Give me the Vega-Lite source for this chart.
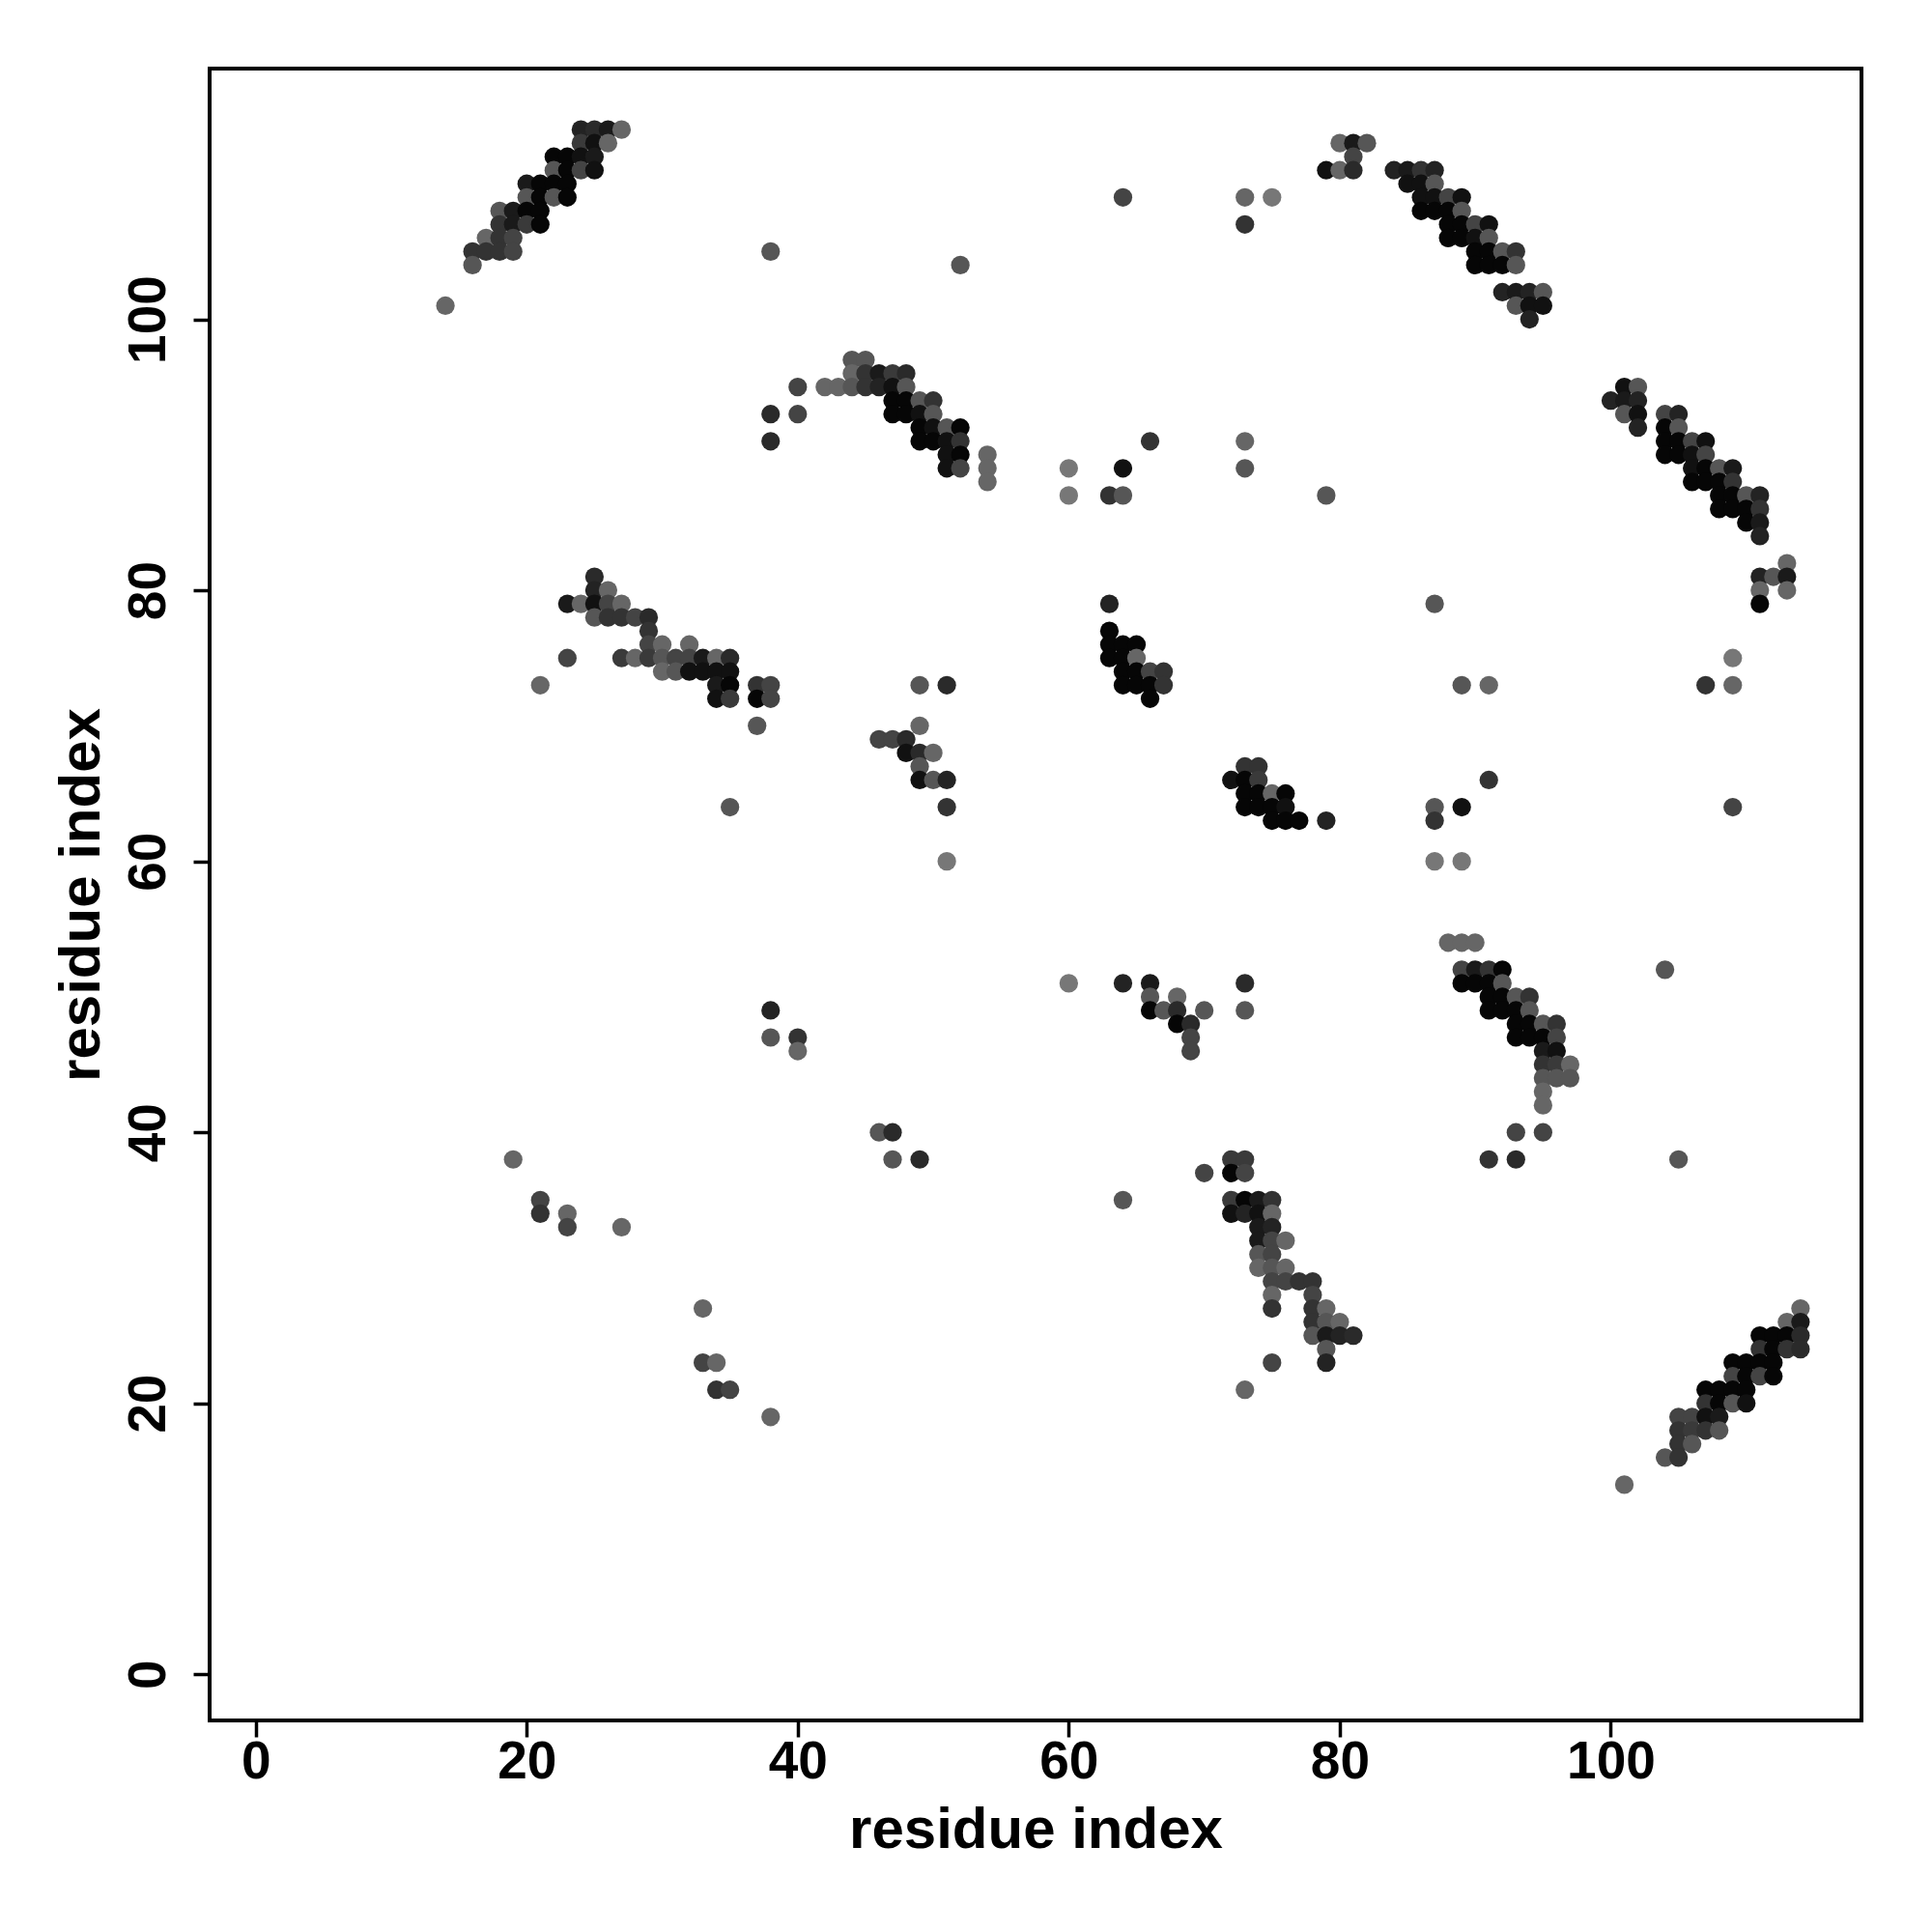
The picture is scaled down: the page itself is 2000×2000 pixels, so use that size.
{
"$schema": "https://vega.github.io/schema/vega-lite/v6.json",
"width": 1710, "height": 1710,
"autosize": {"type": "none"},
"padding": {"left": 217, "top": 71, "right": 73, "bottom": 219},
"background": "white",
"config": {
 "view": {"stroke": "black", "strokeWidth": 4},
 "axis": {"domain": false, "grid": false, "ticks": true, "tickColor": "black", "tickWidth": 3.5, "tickSize": 17,
  "labelFont": "Liberation Sans", "labelFontSize": 55, "labelFontWeight": "bold", "labelColor": "black",
  "labelFlush": false, "labelOverlap": false,
  "titleFont": "Liberation Sans", "titleFontSize": 60, "titleFontWeight": "bold", "titleColor": "black"}
},
"data": {"values": [
{"i":24,"j":114,"p":0.71},{"i":25,"j":114,"p":0.65},{"i":26,"j":114,"p":0.78},{"i":27,"j":114,"p":0.14},
{"i":24,"j":113,"p":0.51},{"i":25,"j":113,"p":0.86},{"i":26,"j":113,"p":0.14},
{"i":22,"j":112,"p":0.95},{"i":23,"j":112,"p":0.95},{"i":24,"j":112,"p":0.86},{"i":25,"j":112,"p":0.78},
{"i":22,"j":111,"p":0.28},{"i":23,"j":111,"p":0.95},{"i":24,"j":111,"p":0.43},{"i":25,"j":111,"p":0.86},
{"i":20,"j":110,"p":0.78},{"i":21,"j":110,"p":0.95},{"i":22,"j":110,"p":0.95},{"i":23,"j":110,"p":0.95},
{"i":20,"j":109,"p":0.28},{"i":21,"j":109,"p":0.95},{"i":22,"j":109,"p":0.28},{"i":23,"j":109,"p":0.95},
{"i":18,"j":108,"p":0.28},{"i":19,"j":108,"p":0.78},{"i":20,"j":108,"p":0.95},{"i":21,"j":108,"p":0.95},
{"i":18,"j":107,"p":0.57},{"i":19,"j":107,"p":0.78},{"i":20,"j":107,"p":0.51},{"i":21,"j":107,"p":0.95},
{"i":17,"j":106,"p":0.14},{"i":18,"j":106,"p":0.57},{"i":19,"j":106,"p":0.43},
{"i":16,"j":105,"p":0.57},{"i":17,"j":105,"p":0.57},{"i":18,"j":105,"p":0.57},{"i":19,"j":105,"p":0.43},
{"i":16,"j":104,"p":0.28},{"i":14,"j":101,"p":0.14},
{"i":38,"j":105,"p":0.28},{"i":52,"j":104,"p":0.28},{"i":64,"j":109,"p":0.43},{"i":73,"j":109,"p":0.14},{"i":75,"j":109,"p":0.0},{"i":73,"j":107,"p":0.57},
{"i":80,"j":113,"p":0.14},{"i":81,"j":113,"p":0.78},{"i":82,"j":113,"p":0.28},{"i":81,"j":112,"p":0.43},
{"i":79,"j":111,"p":0.86},{"i":80,"j":111,"p":0.14},{"i":81,"j":111,"p":0.65},{"i":84,"j":111,"p":0.71},{"i":85,"j":111,"p":0.78},{"i":86,"j":111,"p":0.57},{"i":87,"j":111,"p":0.71},
{"i":85,"j":110,"p":0.86},{"i":86,"j":110,"p":0.86},{"i":87,"j":110,"p":0.28},
{"i":86,"j":109,"p":0.86},{"i":87,"j":109,"p":0.86},{"i":88,"j":109,"p":0.43},{"i":89,"j":109,"p":0.86},
{"i":86,"j":108,"p":0.95},{"i":87,"j":108,"p":0.95},{"i":88,"j":108,"p":0.95},{"i":89,"j":108,"p":0.28},
{"i":88,"j":107,"p":0.95},{"i":89,"j":107,"p":0.95},{"i":90,"j":107,"p":0.43},{"i":91,"j":107,"p":0.86},
{"i":88,"j":106,"p":0.95},{"i":89,"j":106,"p":0.95},{"i":90,"j":106,"p":0.86},{"i":91,"j":106,"p":0.28},
{"i":90,"j":105,"p":0.95},{"i":91,"j":105,"p":0.95},{"i":92,"j":105,"p":0.28},{"i":93,"j":105,"p":0.57},
{"i":90,"j":104,"p":0.95},{"i":91,"j":104,"p":0.95},{"i":92,"j":104,"p":0.95},{"i":93,"j":104,"p":0.28},
{"i":92,"j":102,"p":0.71},{"i":93,"j":102,"p":0.78},{"i":94,"j":102,"p":0.71},{"i":95,"j":102,"p":0.28},
{"i":93,"j":101,"p":0.28},{"i":94,"j":101,"p":0.86},{"i":95,"j":101,"p":0.86},{"i":94,"j":100,"p":0.71},
{"i":44,"j":97,"p":0.28},{"i":45,"j":97,"p":0.28},
{"i":44,"j":96,"p":0.14},{"i":45,"j":96,"p":0.57},{"i":46,"j":96,"p":0.78},{"i":47,"j":96,"p":0.51},{"i":48,"j":96,"p":0.65},
{"i":40,"j":95,"p":0.43},{"i":42,"j":95,"p":0.14},{"i":43,"j":95,"p":0.14},{"i":44,"j":95,"p":0.28},{"i":45,"j":95,"p":0.57},{"i":46,"j":95,"p":0.71},{"i":47,"j":95,"p":0.86},{"i":48,"j":95,"p":0.28},
{"i":47,"j":94,"p":0.95},{"i":48,"j":94,"p":0.95},{"i":49,"j":94,"p":0.28},{"i":50,"j":94,"p":0.57},
{"i":38,"j":93,"p":0.65},{"i":40,"j":93,"p":0.43},{"i":47,"j":93,"p":0.95},{"i":48,"j":93,"p":0.95},{"i":49,"j":93,"p":0.86},{"i":50,"j":93,"p":0.28},
{"i":49,"j":92,"p":0.95},{"i":50,"j":92,"p":0.86},{"i":51,"j":92,"p":0.28},{"i":52,"j":92,"p":0.95},
{"i":38,"j":91,"p":0.65},{"i":49,"j":91,"p":0.95},{"i":50,"j":91,"p":0.95},{"i":51,"j":91,"p":0.86},{"i":52,"j":91,"p":0.57},
{"i":51,"j":90,"p":0.86},{"i":52,"j":90,"p":0.95},{"i":54,"j":90,"p":0.14},
{"i":51,"j":89,"p":0.86},{"i":52,"j":89,"p":0.43},{"i":54,"j":89,"p":0.14},{"i":54,"j":88,"p":0.14},
{"i":60,"j":89,"p":0.0},{"i":64,"j":89,"p":0.86},{"i":73,"j":89,"p":0.28},{"i":66,"j":91,"p":0.57},{"i":73,"j":91,"p":0.14},
{"i":60,"j":87,"p":0.0},{"i":63,"j":87,"p":0.57},{"i":64,"j":87,"p":0.28},{"i":79,"j":87,"p":0.28},
{"i":101,"j":95,"p":0.86},{"i":102,"j":95,"p":0.28},
{"i":100,"j":94,"p":0.71},{"i":101,"j":94,"p":0.78},{"i":102,"j":94,"p":0.71},
{"i":101,"j":93,"p":0.28},{"i":102,"j":93,"p":0.86},{"i":104,"j":93,"p":0.43},{"i":105,"j":93,"p":0.71},
{"i":102,"j":92,"p":0.71},{"i":104,"j":92,"p":0.95},{"i":105,"j":92,"p":0.28},
{"i":104,"j":91,"p":0.95},{"i":105,"j":91,"p":0.95},{"i":106,"j":91,"p":0.43},{"i":107,"j":91,"p":0.86},
{"i":104,"j":90,"p":0.95},{"i":105,"j":90,"p":0.95},{"i":106,"j":90,"p":0.86},{"i":107,"j":90,"p":0.43},
{"i":106,"j":89,"p":0.86},{"i":107,"j":89,"p":0.95},{"i":108,"j":89,"p":0.28},{"i":109,"j":89,"p":0.78},
{"i":106,"j":88,"p":0.95},{"i":107,"j":88,"p":0.95},{"i":108,"j":88,"p":0.95},{"i":109,"j":88,"p":0.57},
{"i":108,"j":87,"p":0.95},{"i":109,"j":87,"p":0.95},{"i":110,"j":87,"p":0.28},{"i":111,"j":87,"p":0.71},
{"i":108,"j":86,"p":0.95},{"i":109,"j":86,"p":0.95},{"i":110,"j":86,"p":0.95},{"i":111,"j":86,"p":0.57},
{"i":110,"j":85,"p":0.95},{"i":111,"j":85,"p":0.78},{"i":111,"j":84,"p":0.71},
{"i":113,"j":82,"p":0.14},{"i":111,"j":81,"p":0.71},{"i":112,"j":81,"p":0.28},{"i":113,"j":81,"p":0.78},
{"i":111,"j":80,"p":0.14},{"i":113,"j":80,"p":0.14},{"i":111,"j":79,"p":0.95},
{"i":25,"j":81,"p":0.65},{"i":25,"j":80,"p":0.71},{"i":26,"j":80,"p":0.14},
{"i":23,"j":79,"p":0.78},{"i":24,"j":79,"p":0.14},{"i":25,"j":79,"p":0.86},{"i":26,"j":79,"p":0.43},{"i":27,"j":79,"p":0.14},
{"i":25,"j":78,"p":0.28},{"i":26,"j":78,"p":0.57},{"i":27,"j":78,"p":0.57},{"i":28,"j":78,"p":0.43},{"i":29,"j":78,"p":0.65},
{"i":29,"j":77,"p":0.57},{"i":29,"j":76,"p":0.43},{"i":30,"j":76,"p":0.14},{"i":32,"j":76,"p":0.14},
{"i":23,"j":75,"p":0.43},{"i":27,"j":75,"p":0.51},{"i":28,"j":75,"p":0.14},{"i":29,"j":75,"p":0.51},{"i":30,"j":75,"p":0.28},{"i":31,"j":75,"p":0.43},{"i":32,"j":75,"p":0.43},{"i":33,"j":75,"p":0.78},{"i":34,"j":75,"p":0.14},{"i":35,"j":75,"p":0.65},
{"i":30,"j":74,"p":0.14},{"i":31,"j":74,"p":0.28},{"i":32,"j":74,"p":0.86},{"i":33,"j":74,"p":0.86},{"i":34,"j":74,"p":0.86},{"i":35,"j":74,"p":0.86},
{"i":21,"j":73,"p":0.14},{"i":34,"j":73,"p":0.78},{"i":35,"j":73,"p":0.95},{"i":37,"j":73,"p":0.57},{"i":38,"j":73,"p":0.43},
{"i":34,"j":72,"p":0.86},{"i":35,"j":72,"p":0.51},{"i":37,"j":72,"p":0.95},{"i":38,"j":72,"p":0.43},
{"i":37,"j":70,"p":0.28},{"i":35,"j":64,"p":0.28},
{"i":63,"j":79,"p":0.71},{"i":63,"j":77,"p":0.95},{"i":63,"j":76,"p":0.95},{"i":64,"j":76,"p":0.95},{"i":65,"j":76,"p":0.95},
{"i":63,"j":75,"p":0.95},{"i":64,"j":75,"p":0.95},{"i":65,"j":75,"p":0.14},
{"i":64,"j":74,"p":0.95},{"i":65,"j":74,"p":0.95},{"i":66,"j":74,"p":0.43},{"i":67,"j":74,"p":0.57},
{"i":64,"j":73,"p":0.95},{"i":65,"j":73,"p":0.95},{"i":66,"j":73,"p":0.95},{"i":67,"j":73,"p":0.57},{"i":66,"j":72,"p":0.95},
{"i":49,"j":73,"p":0.28},{"i":51,"j":73,"p":0.65},{"i":49,"j":70,"p":0.14},
{"i":46,"j":69,"p":0.43},{"i":47,"j":69,"p":0.43},{"i":48,"j":69,"p":0.65},
{"i":48,"j":68,"p":0.86},{"i":49,"j":68,"p":0.65},{"i":50,"j":68,"p":0.14},{"i":49,"j":67,"p":0.28},
{"i":49,"j":66,"p":0.86},{"i":50,"j":66,"p":0.28},{"i":51,"j":66,"p":0.71},{"i":51,"j":64,"p":0.57},{"i":51,"j":60,"p":0.0},
{"i":73,"j":67,"p":0.57},{"i":74,"j":67,"p":0.57},
{"i":72,"j":66,"p":0.86},{"i":73,"j":66,"p":0.95},{"i":74,"j":66,"p":0.51},
{"i":73,"j":65,"p":0.95},{"i":74,"j":65,"p":0.95},{"i":75,"j":65,"p":0.14},{"i":76,"j":65,"p":0.95},
{"i":73,"j":64,"p":0.95},{"i":74,"j":64,"p":0.95},{"i":75,"j":64,"p":0.95},{"i":76,"j":64,"p":0.86},
{"i":75,"j":63,"p":0.95},{"i":76,"j":63,"p":0.95},{"i":77,"j":63,"p":0.95},{"i":79,"j":63,"p":0.71},
{"i":87,"j":79,"p":0.28},{"i":89,"j":73,"p":0.28},{"i":91,"j":73,"p":0.14},{"i":107,"j":73,"p":0.57},{"i":109,"j":73,"p":0.14},{"i":109,"j":75,"p":0.0},
{"i":91,"j":66,"p":0.57},{"i":87,"j":64,"p":0.28},{"i":87,"j":63,"p":0.57},{"i":89,"j":64,"p":0.86},{"i":109,"j":64,"p":0.43},{"i":87,"j":60,"p":0.0},{"i":89,"j":60,"p":0.0},
{"i":88,"j":54,"p":0.14},{"i":89,"j":54,"p":0.14},{"i":90,"j":54,"p":0.14},
{"i":89,"j":52,"p":0.43},{"i":90,"j":52,"p":0.78},{"i":91,"j":52,"p":0.57},{"i":92,"j":52,"p":0.95},{"i":104,"j":52,"p":0.28},
{"i":89,"j":51,"p":0.95},{"i":90,"j":51,"p":0.95},{"i":91,"j":51,"p":0.95},{"i":92,"j":51,"p":0.28},
{"i":91,"j":50,"p":0.95},{"i":92,"j":50,"p":0.95},{"i":93,"j":50,"p":0.28},{"i":94,"j":50,"p":0.57},
{"i":91,"j":49,"p":0.95},{"i":92,"j":49,"p":0.95},{"i":93,"j":49,"p":0.95},{"i":94,"j":49,"p":0.28},
{"i":93,"j":48,"p":0.95},{"i":94,"j":48,"p":0.95},{"i":95,"j":48,"p":0.28},{"i":96,"j":48,"p":0.57},
{"i":93,"j":47,"p":0.95},{"i":94,"j":47,"p":0.95},{"i":95,"j":47,"p":0.95},{"i":96,"j":47,"p":0.43},
{"i":95,"j":46,"p":0.78},{"i":96,"j":46,"p":0.86},
{"i":95,"j":45,"p":0.57},{"i":96,"j":45,"p":0.51},{"i":97,"j":45,"p":0.14},
{"i":95,"j":44,"p":0.28},{"i":96,"j":44,"p":0.28},{"i":97,"j":44,"p":0.28},
{"i":95,"j":43,"p":0.14},{"i":95,"j":42,"p":0.14},{"i":93,"j":40,"p":0.43},{"i":95,"j":40,"p":0.43},
{"i":91,"j":38,"p":0.57},{"i":93,"j":38,"p":0.65},{"i":105,"j":38,"p":0.28},
{"i":60,"j":51,"p":0.0},{"i":64,"j":51,"p":0.71},{"i":66,"j":51,"p":0.78},{"i":73,"j":51,"p":0.65},
{"i":66,"j":50,"p":0.28},{"i":68,"j":50,"p":0.14},
{"i":66,"j":49,"p":0.95},{"i":67,"j":49,"p":0.28},{"i":68,"j":49,"p":0.65},{"i":70,"j":49,"p":0.28},{"i":73,"j":49,"p":0.28},
{"i":68,"j":48,"p":0.95},{"i":69,"j":48,"p":0.65},{"i":69,"j":47,"p":0.43},{"i":69,"j":46,"p":0.43},
{"i":38,"j":49,"p":0.71},{"i":38,"j":47,"p":0.28},{"i":40,"j":47,"p":0.57},{"i":40,"j":46,"p":0.14},
{"i":46,"j":40,"p":0.28},{"i":47,"j":40,"p":0.65},{"i":47,"j":38,"p":0.28},{"i":49,"j":38,"p":0.65},
{"i":64,"j":35,"p":0.28},{"i":70,"j":37,"p":0.43},
{"i":19,"j":38,"p":0.14},{"i":21,"j":35,"p":0.43},{"i":21,"j":34,"p":0.57},{"i":23,"j":34,"p":0.14},{"i":23,"j":33,"p":0.43},{"i":27,"j":33,"p":0.14},
{"i":33,"j":27,"p":0.14},{"i":33,"j":23,"p":0.43},{"i":34,"j":23,"p":0.14},{"i":34,"j":21,"p":0.57},{"i":35,"j":21,"p":0.43},{"i":38,"j":19,"p":0.14},
{"i":72,"j":38,"p":0.51},{"i":73,"j":38,"p":0.51},{"i":72,"j":37,"p":0.95},{"i":73,"j":37,"p":0.43},
{"i":72,"j":35,"p":0.51},{"i":73,"j":35,"p":0.95},{"i":74,"j":35,"p":0.78},{"i":75,"j":35,"p":0.57},
{"i":72,"j":34,"p":0.86},{"i":73,"j":34,"p":0.71},{"i":74,"j":34,"p":0.86},{"i":75,"j":34,"p":0.14},
{"i":74,"j":33,"p":0.78},{"i":75,"j":33,"p":0.71},
{"i":74,"j":32,"p":0.78},{"i":75,"j":32,"p":0.43},{"i":76,"j":32,"p":0.14},
{"i":74,"j":31,"p":0.28},{"i":75,"j":31,"p":0.43},
{"i":74,"j":30,"p":0.14},{"i":75,"j":30,"p":0.28},{"i":76,"j":30,"p":0.14},
{"i":75,"j":29,"p":0.43},{"i":76,"j":29,"p":0.43},{"i":77,"j":29,"p":0.57},{"i":78,"j":29,"p":0.57},
{"i":75,"j":28,"p":0.14},{"i":78,"j":28,"p":0.43},
{"i":75,"j":27,"p":0.57},{"i":78,"j":27,"p":0.57},{"i":79,"j":27,"p":0.14},
{"i":78,"j":26,"p":0.57},{"i":79,"j":26,"p":0.28},{"i":80,"j":26,"p":0.14},
{"i":78,"j":25,"p":0.28},{"i":79,"j":25,"p":0.78},{"i":80,"j":25,"p":0.71},{"i":81,"j":25,"p":0.65},
{"i":79,"j":24,"p":0.28},{"i":75,"j":23,"p":0.43},{"i":79,"j":23,"p":0.71},{"i":73,"j":21,"p":0.14},
{"i":114,"j":27,"p":0.14},{"i":113,"j":26,"p":0.14},{"i":114,"j":26,"p":0.78},
{"i":111,"j":25,"p":0.95},{"i":112,"j":25,"p":0.95},{"i":113,"j":25,"p":0.95},{"i":114,"j":25,"p":0.65},
{"i":111,"j":24,"p":0.57},{"i":112,"j":24,"p":0.95},{"i":113,"j":24,"p":0.57},{"i":114,"j":24,"p":0.65},
{"i":109,"j":23,"p":0.95},{"i":110,"j":23,"p":0.95},{"i":111,"j":23,"p":0.95},{"i":112,"j":23,"p":0.95},
{"i":109,"j":22,"p":0.43},{"i":110,"j":22,"p":0.95},{"i":111,"j":22,"p":0.43},{"i":112,"j":22,"p":0.95},
{"i":107,"j":21,"p":0.95},{"i":108,"j":21,"p":0.95},{"i":109,"j":21,"p":0.95},{"i":110,"j":21,"p":0.95},
{"i":107,"j":20,"p":0.57},{"i":108,"j":20,"p":0.95},{"i":109,"j":20,"p":0.28},{"i":110,"j":20,"p":0.86},
{"i":105,"j":19,"p":0.43},{"i":106,"j":19,"p":0.43},{"i":107,"j":19,"p":0.86},{"i":108,"j":19,"p":0.78},
{"i":105,"j":18,"p":0.57},{"i":106,"j":18,"p":0.51},{"i":107,"j":18,"p":0.57},{"i":108,"j":18,"p":0.28},
{"i":105,"j":17,"p":0.57},{"i":106,"j":17,"p":0.28},
{"i":104,"j":16,"p":0.28},{"i":105,"j":16,"p":0.57},{"i":101,"j":14,"p":0.14}
]},
"mark": {"type": "circle", "size": 370, "opacity": 1, "stroke": null},
"encoding": {
 "x": {"field": "i", "type": "quantitative",
  "scale": {"domain": [-3.4, 118.5], "nice": false, "zero": false},
  "axis": {"title": "residue index", "values": [0,20,40,60,80,100], "labelBaseline": "alphabetic", "labelPadding": 42,
   "titleBaseline": "alphabetic", "titleAlign": "center", "titleX": 855, "titleY": 131}},
 "y": {"field": "j", "type": "quantitative",
  "scale": {"domain": [-3.4, 118.5], "nice": false, "zero": false},
  "axis": {"title": "residue index", "values": [0,20,40,60,80,100], "labelAngle": -90, "labelAlign": "center", "labelBaseline": "alphabetic", "labelPadding": 30,
   "titleAngle": -90, "titleBaseline": "alphabetic", "titleAlign": "center", "titleX": -115, "titleY": 855}},
 "color": {"field": "p", "type": "quantitative",
  "scale": {"domain": [0, 1], "range": ["#777777", "#000000"], "interpolate": "rgb"}, "legend": null}
}
}
